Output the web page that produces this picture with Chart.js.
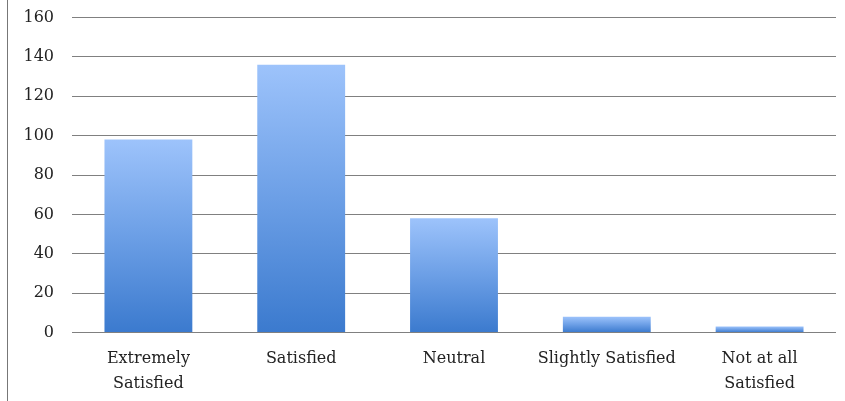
<!DOCTYPE html>
<html>
<head>
<meta charset="utf-8">
<script src="https://cdn.jsdelivr.net/npm/chart.js@4"></script>
<style>
  html, body { margin: 0; padding: 0; background: #fff; overflow: hidden; }
  #wrap { position: relative; width: 845px; height: 401px; overflow: hidden; }
  #satisfactionChart { position: absolute; left: 0; top: -10px; }
  #frame { position: absolute; left: 7px; top: 0; width: 1px; height: 401px; background: #777; }
</style>
</head>
<body>
<div id="wrap">
  <canvas id="satisfactionChart" width="845" height="412"></canvas>
  <div id="frame"></div>
</div>
<script>
// Chart data
const categories = [["Extremely", "Satisfied"], "Satisfied", "Neutral", "Slightly Satisfied", ["Not at all", "Satisfied"]];
const responses = [98, 136, 58, 8, 3];
const yTicks = [0, 20, 40, 60, 80, 100, 120, 140, 160];

// Vertical gradient for each bar, light on top and darker at the base
function barGradient(context) {
    const chart = context.chart;
    if (!chart.chartArea || context.type !== 'data') return '#6a9ee8';
    const yScale = chart.scales.y;
    const top = yScale.getPixelForValue(context.raw);
    const base = yScale.getPixelForValue(0);
    const g = chart.ctx.createLinearGradient(0, top, 0, base);
    g.addColorStop(0, '#9dc3fb');
    g.addColorStop(0.5, '#6c9fe6');
    g.addColorStop(1, '#3b7ace');
    return g;
}

const ctx = document.getElementById('satisfactionChart').getContext('2d');
new Chart(ctx, {
    type: 'bar',
    data: {
        labels: categories,
        datasets: [{
            data: responses,
            backgroundColor: barGradient,
            borderWidth: 0,
            categoryPercentage: 0.575,
            barPercentage: 1
        }]
    },
    options: {
        responsive: false,
        animation: false,
        layout: { padding: { left: 7, right: 9, top: 0, bottom: 0 } },
        plugins: {
            legend: { display: false },
            tooltip: { enabled: false }
        },
        scales: {
            x: {
                grid: { display: false },
                border: { display: false },
                ticks: {
                    color: '#222',
                    font: { family: 'DejaVu Serif', size: 16, lineHeight: 1.55 },
                    padding: 6,
                    maxRotation: 0,
                    autoSkip: false
                }
            },
            y: {
                min: 0,
                max: 160,
                afterBuildTicks: axis => { axis.ticks = yTicks.map(v => ({ value: v })); },
                afterFit: axis => { axis.width = 65; },
                grid: { color: '#808080', lineWidth: 1, drawTicks: false },
                border: { display: false },
                ticks: {
                    color: '#222',
                    font: { family: 'DejaVu Serif', size: 16 },
                    padding: 18
                }
            }
        }
    }
});
</script>
</body>
</html>
